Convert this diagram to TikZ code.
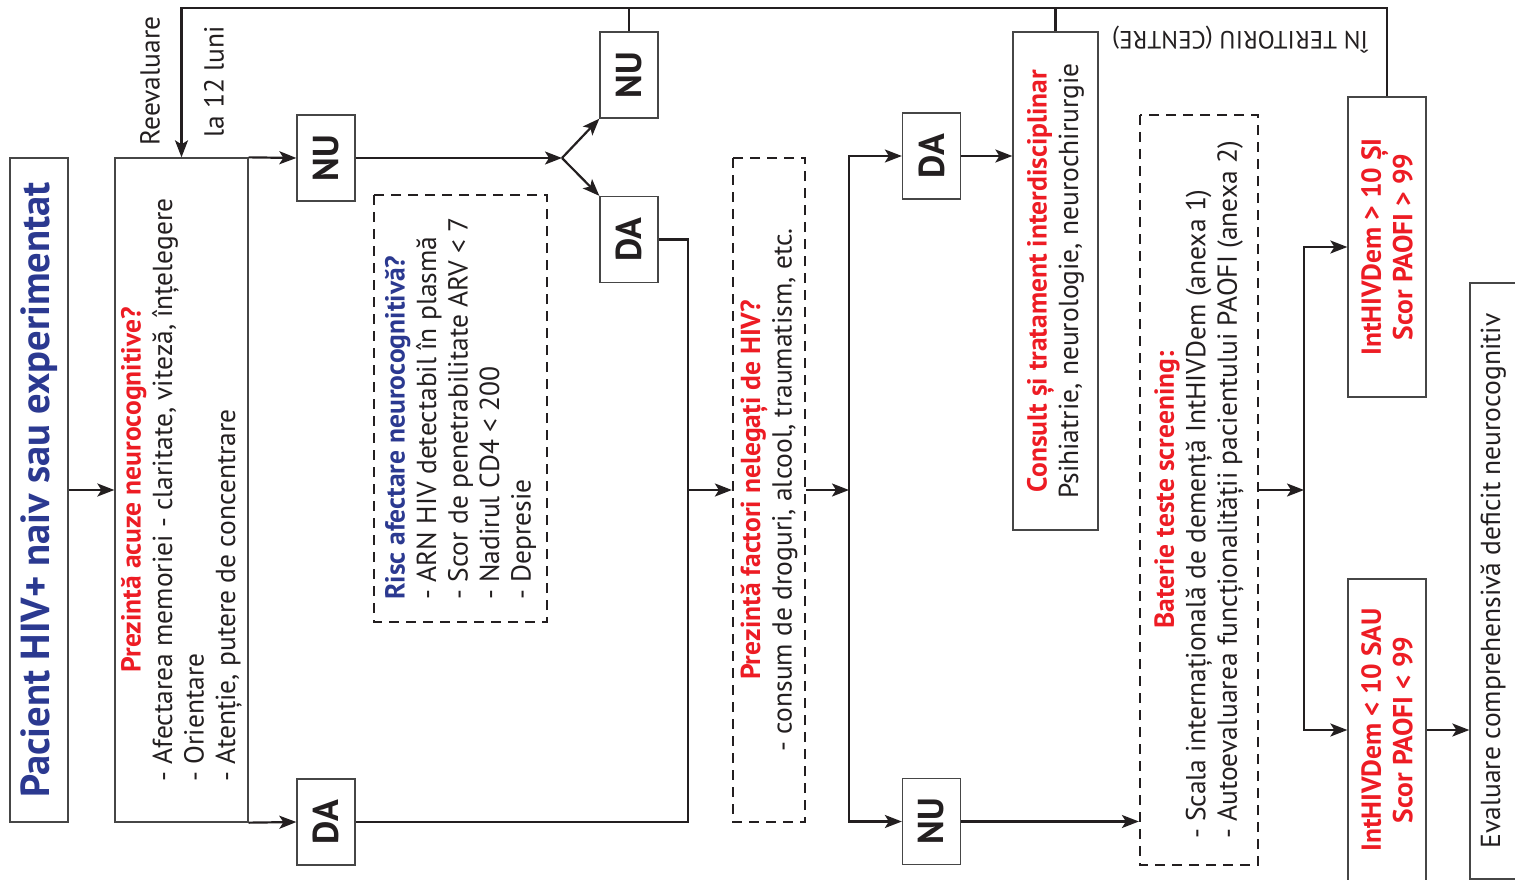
\documentclass[tikz,border=0pt]{standalone}
\usepackage{fontspec}
\setmainfont{PT Sans}
\usepackage{xcolor}
\usetikzlibrary{arrows.meta,positioning}
\definecolor{hivBlue}{RGB}{43,57,144}
\definecolor{hivRed}{RGB}{237,28,36}
\definecolor{lineDark}{RGB}{35,31,32}
\definecolor{boxGray}{RGB}{70,70,70}
\newcommand{\bodyfont}{\fontsize{27.5}{31.5}\selectfont}

\tikzset{
  box/.style={draw=boxGray, line width=1.3pt, rotate=90, inner sep=0pt, text=lineDark},
  dbox/.style={draw=lineDark, line width=2.2pt, dash pattern=on 10pt off 7pt, rotate=90, inner sep=0pt, text=lineDark},
  tag/.style={box, minimum width=86pt, minimum height=58pt, font=\fontsize{36}{38}\selectfont\bfseries},
  conn/.style={draw=lineDark, line width=2.2pt},
  arr/.style={conn, -{Stealth[length=17pt,width=13pt,inset=4pt]}},
}

\begin{document}
\begin{tikzpicture}[x=1pt,y=-1pt]
\useasboundingbox (0,0) rectangle (1515,880);

% first column
\node[box, minimum width=664pt, minimum height=58pt, text=hivBlue, font=\fontsize{40.5}{44}\selectfont\bfseries] (pacient) at (39,490) {Pacient HIV+ naiv sau experimentat};
\node[box, minimum width=664pt, minimum height=133pt, font=\bodyfont] (acuze) at (181.5,490) {\begin{tabular}{@{}l@{}}\multicolumn{1}{@{}c@{}}{\textcolor{hivRed}{\bfseries Prezintă acuze neurocognitive?}}\\- Afectarea memoriei - claritate, viteză, înțelegere\\- Orientare\\- Atenție, putere de concentrare\end{tabular}};
\node[rotate=90, font=\bodyfont, text=lineDark] (reeval) at (150,81) {Reevaluare};
\node[rotate=90, font=\bodyfont, text=lineDark] (luni) at (214,82) {la 12 luni};

% answers
\node[tag] (nuA) at (326,158) {NU};
\node[tag] (daA) at (326,822) {DA};
\node[tag] (nuB) at (629,75) {NU};
\node[tag] (daB) at (629,239.5) {DA};
\node[dbox, minimum width=427pt, minimum height=173pt, align=left, font=\bodyfont] (risc) at (460.5,408.5) {\textcolor{hivBlue}{\bfseries Risc afectare neurocognitivă?}\\- ARN HIV detectabil în plasmă\\- Scor de penetrabilitate ARV < 7\\- Nadirul CD4 < 200\\- Depresie};

\node[dbox, minimum width=664pt, minimum height=72pt, align=center, font=\bodyfont] (factori) at (769,490) {\textcolor{hivRed}{\bfseries Prezintă factori nelegați de HIV?}\\- consum de droguri, alcool, traumatism, etc.};
\node[tag] (daC) at (931.5,156) {DA};
\node[tag] (nuC) at (931.5,821.5) {NU};

\node[box, minimum width=498pt, minimum height=85pt, align=center, font=\bodyfont] (consult) at (1055.5,281) {\textcolor{hivRed}{\bfseries Consult și tratament interdisciplinar}\\Psihiatrie, neurologie, neurochirurgie};
\node[dbox, minimum width=750pt, minimum height=118pt, font=\bodyfont] (screen) at (1199,490) {\begin{tabular}{@{}l@{}}\multicolumn{1}{@{}c@{}}{\textcolor{hivRed}{\bfseries Baterie teste screening:}}\\- Scala internațională de demență IntHIVDem (anexa 1)\\- Autoevaluarea funcționalității pacientului PAOFI (anexa 2)\end{tabular}};

% scores
\node[box, minimum width=300pt, minimum height=78pt, align=center, text=hivRed, font=\bodyfont\bfseries] (peste) at (1387,247) {IntHIVDem > 10 ȘI\\Scor PAOFI > 99};
\node[box, minimum width=302pt, minimum height=78pt, align=center, text=hivRed, font=\bodyfont\bfseries] (sub) at (1387,730) {IntHIVDem < 10 SAU\\Scor PAOFI < 99};
\node[box, minimum width=596pt, minimum height=46pt, font=\bodyfont] (eval) at (1493,581) {Evaluare comprehensivă deficit neurocognitiv};
\node[rotate=180, font=\fontsize{25}{28}\selectfont, text=lineDark] (centre) at (1240,40) {ÎN TERITORIU (CENTRE)};

% connectors
\coordinate (forkA) at (562,158);
\coordinate (mergeR) at (688,490);
\coordinate (forkB) at (849,490);
\coordinate (forkC) at (1304,490);
\coordinate (loopTop) at (1388,8);
\draw[arr] (pacient.south) -- (acuze.north);
\draw[arr] (acuze.south east) -- (nuA.north);
\draw[arr] (acuze.south west) -- (daA.north);
\draw[arr] (nuA.south) -- (forkA);
\draw[arr] (forkA) -- (nuB.north west);
\draw[arr] (forkA) -- (daB.north east);
\draw[conn] (daB.south) -| (mergeR) |- (daA.south);
\draw[arr] (mergeR) -- (factori.north);
\draw[arr] (factori.south) -- (forkB);
\draw[arr] (forkB) |- (daC.north);
\draw[arr] (forkB) |- (nuC.north);
\draw[arr] (daC.south) -- (daC.south -| consult.north);
\draw[arr] (nuC.south) -- (nuC.south -| screen.north);
\draw[arr] (screen.south) -- (forkC);
\draw[arr] (forkC) |- (peste.north);
\draw[arr] (forkC) |- (sub.north);
\draw[arr] (sub.south) -- (sub.south -| eval.north);
% return loop
\draw[arr] (peste.east) |- (acuze.east |- loopTop) -- (acuze.east);
\draw[conn] (nuB.east) -- (nuB.east |- loopTop);
\draw[conn] (consult.east) -- (consult.east |- loopTop);
\end{tikzpicture}
\end{document}
